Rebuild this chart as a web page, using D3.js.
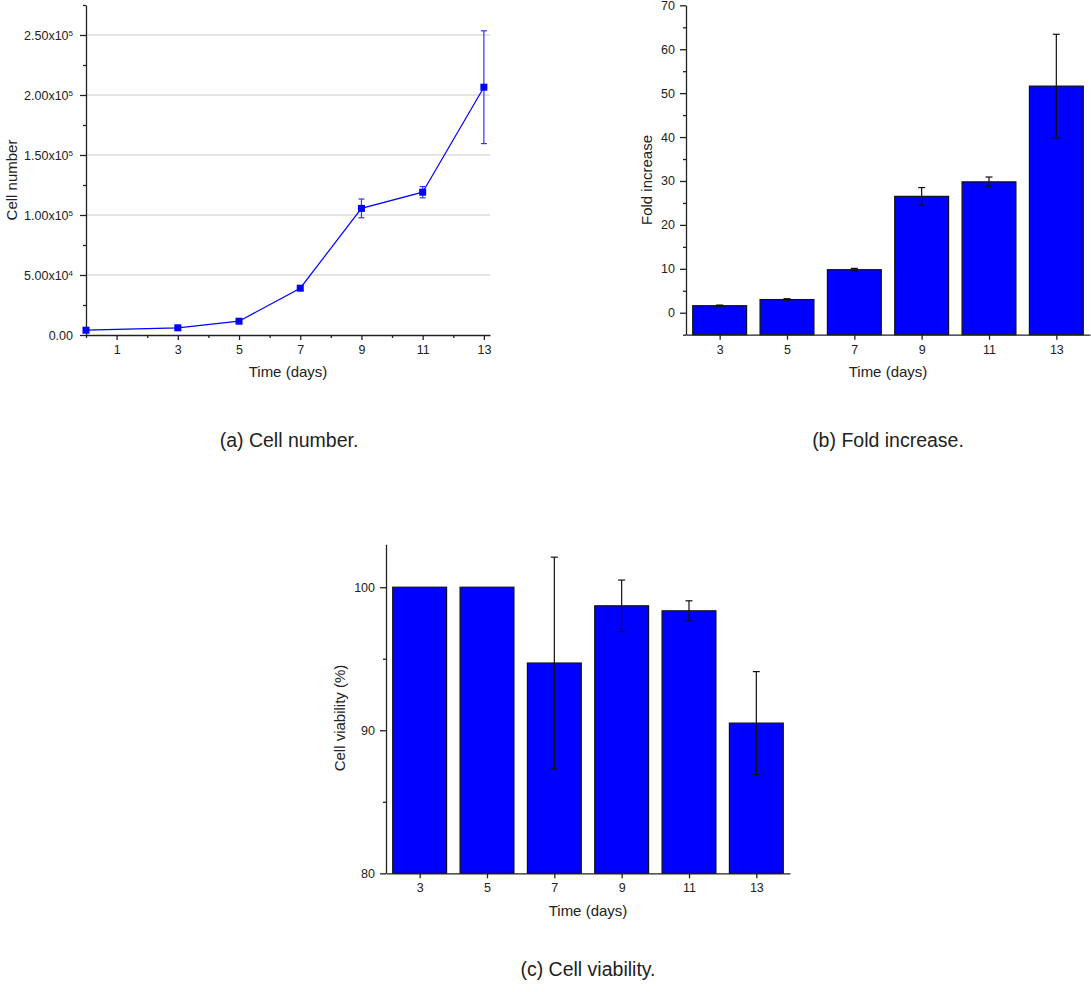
<!DOCTYPE html>
<html>
<head>
<meta charset="utf-8">
<script src="https://cdn.jsdelivr.net/npm/d3@7"></script>
<style>
  body { margin: 0; background: #fff; }
  text { font-family: "Liberation Sans", Arial, sans-serif; fill: #222; }
  .axis path, .axis line { stroke: #222; stroke-width: 1.3; }
  .axis text { font-size: 12.5px; fill: #222; }
</style>
</head>
<body>
<script>
// Panel (a) data: cell number over time
var days = [0, 3, 5, 7, 9, 11, 13];
var cellNumber = [4000, 6000, 11500, 39000, 105500, 119000, 206500];
var cellNumberErr = [300, 500, 900, 1200, 7800, 4700, 47000];
var cellTicks = [0, 50000, 100000, 150000, 200000, 250000];
var cellMinorTicks = [25000, 75000, 125000, 175000, 225000, 275000];
var dayTicks = [1, 3, 5, 7, 9, 11, 13];
var dayMinorTicks = [0, 2, 4, 6, 8, 10, 12];

// Panels (b) and (c) data
var barDays = [3, 5, 7, 9, 11, 13];
var foldIncrease = [1.6, 3.0, 9.8, 26.5, 29.8, 51.6];
var foldErr = [0.15, 0.2, 0.3, 2.0, 1.1, 11.8];
var foldTicks = [0, 10, 20, 30, 40, 50, 60, 70];
var foldMinorTicks = [-5, 5, 15, 25, 35, 45, 55, 65];
var viability = [100, 100, 94.7, 98.7, 98.35, 90.5];
var viabilityErr = [0, 0, 7.4, 1.8, 0.7, 3.6];
var viabTicks = [80, 90, 100];
var viabMinorTicks = [85, 95];

var captions = ["(a) Cell number.", "(b) Fold increase.", "(c) Cell viability."];

var svg = d3.select("body").append("svg")
  .attr("width", 1091)
  .attr("height", 992);

// draws left axis with major + minor ticks
function drawYAxis(y, x0, ticks, minor, fmt, pad) {
  svg.append("g").attr("class", "axis")
    .attr("transform", `translate(${x0},0)`)
    .call(d3.axisLeft(y).tickValues(minor).tickSize(3).tickFormat(""))
    .select(".domain").remove();
  return svg.append("g").attr("class", "axis")
    .attr("transform", `translate(${x0},0)`)
    .call(d3.axisLeft(y).tickValues(ticks).tickSizeInner(6).tickSizeOuter(0).tickPadding(pad).tickFormat(fmt));
}

function drawXAxis(x, y0, ticks, minor) {
  if (minor) {
    svg.append("g").attr("class", "axis")
      .attr("transform", `translate(0,${y0})`)
      .call(d3.axisBottom(x).tickValues(minor).tickSize(3).tickFormat(""))
      .select(".domain").remove();
  }
  svg.append("g").attr("class", "axis")
    .attr("transform", `translate(0,${y0})`)
    .call(d3.axisBottom(x).tickValues(ticks).tickSizeInner(5).tickSizeOuter(0).tickPadding(5));
}

function axisTitles(xLabel, xCenter, xBase, yLabel, yCenter, yBase) {
  svg.append("text")
    .attr("x", xCenter).attr("y", xBase)
    .attr("text-anchor", "middle")
    .attr("font-size", "15px")
    .text(xLabel);
  svg.append("text")
    .attr("transform", `translate(${yBase},${yCenter}) rotate(-90)`)
    .attr("text-anchor", "middle")
    .attr("font-size", "15px")
    .text(yLabel);
}

/* ---------- (a) Cell number ---------- */
var xA = d3.scaleLinear().domain([0, 13.2]).range([86, 490]);
var yA = d3.scaleLinear().domain([0, 275000]).range([335, 5]);

// gridlines
svg.append("g").selectAll("line")
  .data(cellTicks.filter(d => d > 0))
  .enter().append("line")
  .attr("x1", xA(0)).attr("x2", xA(13.2))
  .attr("y1", d => yA(d)).attr("y2", d => yA(d))
  .attr("stroke", "#c8c8c8").attr("stroke-width", 1);

var yAxA = drawYAxis(yA, 86, cellTicks, cellMinorTicks, d => d, 7);
// scientific labels with superscript
yAxA.selectAll(".tick text").each(function(d) {
  var t = d3.select(this).text("");
  if (d === 0) { t.text("0.00"); return; }
  var e = Math.floor(Math.log10(d));
  t.append("tspan").text((d / Math.pow(10, e)).toFixed(2) + "x10");
  t.append("tspan").attr("dy", "-0.5em").attr("font-size", "8px").text(e);
});
drawXAxis(xA, 335, dayTicks, dayMinorTicks);
axisTitles("Time (days)", 288, 377, "Cell number", 180, 17);

var line = d3.line()
  .x((d, i) => xA(days[i]))
  .y(d => yA(d));
svg.append("path")
  .datum(cellNumber)
  .attr("d", line)
  .attr("fill", "none")
  .attr("stroke", "#0000ff")
  .attr("stroke-width", 1.2);

var errA = svg.append("g").attr("stroke", "#3333ff").attr("stroke-width", 1.2);
cellNumber.forEach(function(v, i) {
  var cx = xA(days[i]);
  var e = cellNumberErr[i];
  errA.append("line").attr("x1", cx).attr("x2", cx).attr("y1", yA(v - e)).attr("y2", yA(v + e));
  errA.append("line").attr("x1", cx - 3).attr("x2", cx + 3).attr("y1", yA(v - e)).attr("y2", yA(v - e));
  errA.append("line").attr("x1", cx - 3).attr("x2", cx + 3).attr("y1", yA(v + e)).attr("y2", yA(v + e));
});

svg.append("g").selectAll("rect")
  .data(cellNumber)
  .enter().append("rect")
  .attr("x", (d, i) => xA(days[i]) - 3.5)
  .attr("y", d => yA(d) - 3.5)
  .attr("width", 7).attr("height", 7)
  .attr("fill", "#0000ff");

/* ---------- bar panels ---------- */
function barPanel(x, y, base, values, errs) {
  var w = x(3.8) - x(2.2);
  svg.append("g").selectAll("rect")
    .data(values)
    .enter().append("rect")
    .attr("x", (d, i) => x(barDays[i]) - w / 2)
    .attr("y", d => y(d))
    .attr("width", w)
    .attr("height", d => y(base) - y(d))
    .attr("fill", "#0000ff")
    .attr("stroke", "#111")
    .attr("stroke-width", 1.2);
  var g = svg.append("g").attr("stroke", "#111").attr("stroke-width", 1.2);
  values.forEach(function(v, i) {
    var e = errs[i];
    if (e <= 0) return;
    var cx = x(barDays[i]);
    g.append("line").attr("x1", cx).attr("x2", cx).attr("y1", y(v - e)).attr("y2", y(v + e));
    g.append("line").attr("x1", cx - 3.5).attr("x2", cx + 3.5).attr("y1", y(v - e)).attr("y2", y(v - e));
    g.append("line").attr("x1", cx - 3.5).attr("x2", cx + 3.5).attr("y1", y(v + e)).attr("y2", y(v + e));
  });
}

/* ---------- (b) Fold increase ---------- */
var xB = d3.scaleLinear().domain([2, 14]).range([686, 1090]);
var yB = d3.scaleLinear().domain([-5, 70]).range([334.7, 5.3]);
barPanel(xB, yB, -5, foldIncrease, foldErr);
drawYAxis(yB, 686, foldTicks, foldMinorTicks, d3.format("d"), 5);
drawXAxis(xB, 334.7, barDays, null);
axisTitles("Time (days)", 888, 377, "Fold increase", 180, 652);

/* ---------- (c) Cell viability ---------- */
var xC = d3.scaleLinear().domain([2, 14]).range([386, 790]);
var yC = d3.scaleLinear().domain([80, 103]).range([873.3, 544.3]);
barPanel(xC, yC, 80, viability, viabilityErr);
drawYAxis(yC, 386, viabTicks, viabMinorTicks, d3.format("d"), 5);
drawXAxis(xC, 873.3, barDays, null);
axisTitles("Time (days)", 588, 916, "Cell viability (%)", 718, 345);

// captions
var capPos = [[289, 447], [888, 447], [588, 976]];
svg.selectAll(".caption")
  .data(captions)
  .enter().append("text")
  .attr("class", "caption")
  .attr("x", (d, i) => capPos[i][0])
  .attr("y", (d, i) => capPos[i][1])
  .attr("text-anchor", "middle")
  .attr("font-size", "19.5px")
  .text(d => d);
</script>
</body>
</html>
